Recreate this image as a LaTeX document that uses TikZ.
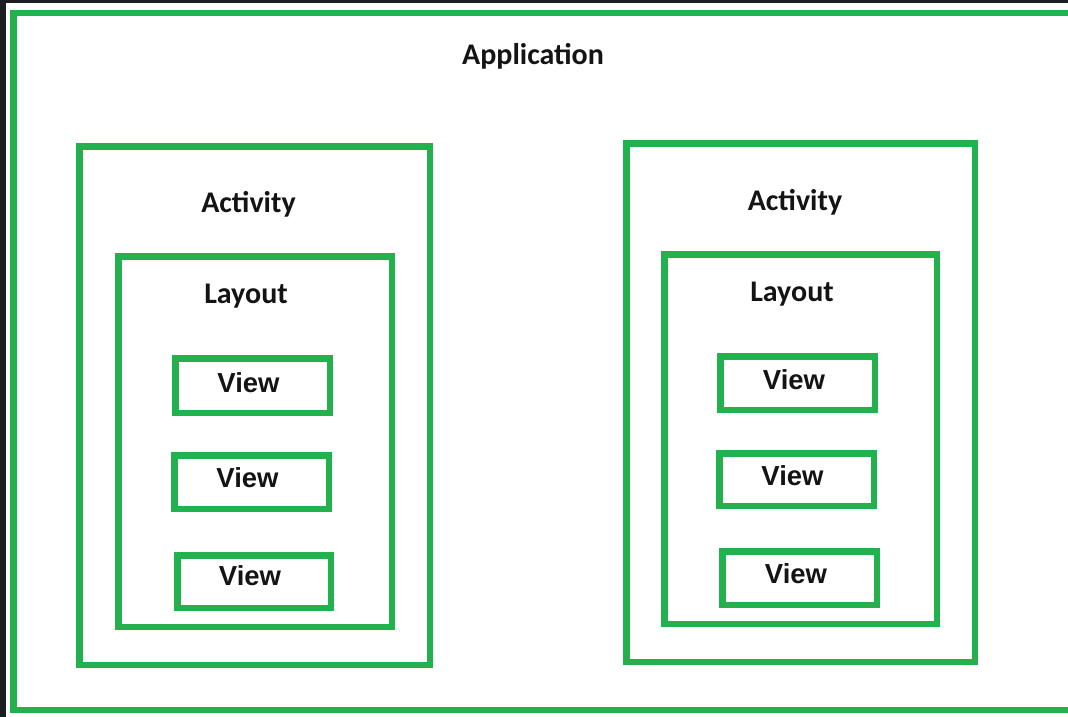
\documentclass[tikz,border=0pt]{standalone}
\usepackage{fontspec}
\setmainfont{Carlito}
\newfontfamily\viewfont{Liberation Sans}
\definecolor{paintgreen}{RGB}{34,177,76}
\definecolor{bgdark}{RGB}{27,30,34}
\tikzset{
	box/.style={draw=paintgreen, line width=6.5pt},
	lbl/.style={font=\fontsize{30}{35}\selectfont\bfseries, text=black!92, inner sep=0pt, anchor=base},
	viewlbl/.style={lbl, font=\viewfont\fontsize{27.5}{32}\selectfont\bfseries}
}
\begin{document}
\begin{tikzpicture}[x=1pt, y=-1pt]
		\useasboundingbox (0,0) rectangle (1068,717);
		\fill[bgdark] (0,0) rectangle (1068,717);
		\fill[white] (6,3) rectangle (1068,717);
		% application
		\draw[box] (1080,13.25)--(13.25,13.25)--(13.25,709.75)--(1080,709.75);
		\node[lbl] (app) at (533,65){Application};
		% left activity
		\draw[box] (79.25,146.25) rectangle (429.75,664.75);
		\node[lbl] (actL) at (248.5,212){Activity};
		\draw[box] (118.25,256.25) rectangle (391.75,626.75);
		\node[lbl] (layL) at (246,303){Layout};
		\draw[box] (175.25,358.25) rectangle (329.75,412.75);
		\node[viewlbl] (viewLa) at (248.5,392){View};
		\draw[box] (174.25,455.25) rectangle (328.75,508.75);
		\node[viewlbl] (viewLb) at (247.5,487){View};
		\draw[box] (177.25,555.25) rectangle (330.75,607.75);
		\node[viewlbl] (viewLc) at (250,585){View};
		% right activity
		\draw[box] (626.25,143.25) rectangle (974.75,661.75);
		\node[lbl] (actR) at (795,210){Activity};
		\draw[box] (664.25,254.25) rectangle (936.75,623.75);
		\node[lbl] (layR) at (792,301){Layout};
		\draw[box] (720.25,356.25) rectangle (874.75,409.75);
		\node[viewlbl] (viewRa) at (794,389){View};
		\draw[box] (719.25,453.25) rectangle (873.75,505.75);
		\node[viewlbl] (viewRb) at (792.5,485){View};
		\draw[box] (722.25,551.25) rectangle (876.75,604.75);
		\node[viewlbl] (viewRc) at (796,583){View};
\end{tikzpicture}
\end{document}
